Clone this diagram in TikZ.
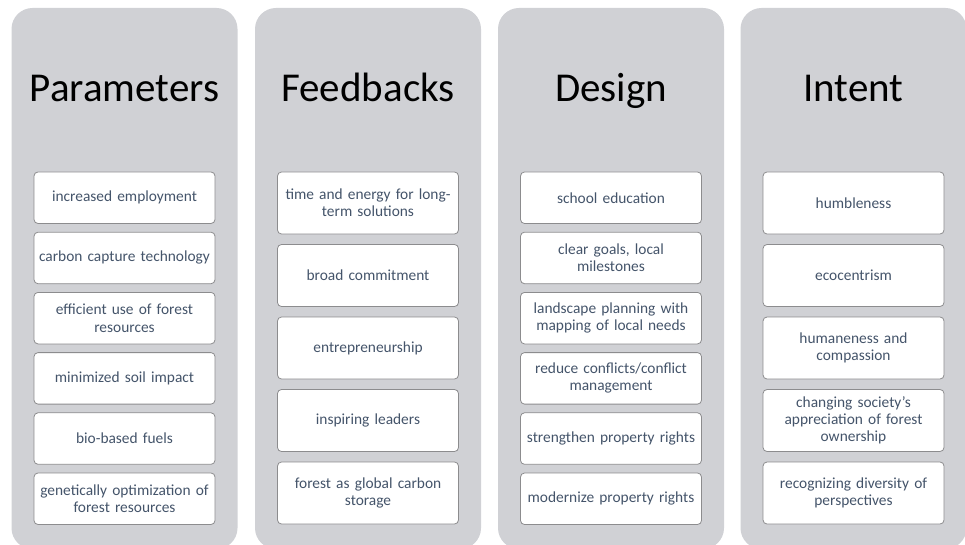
\documentclass[tikz,border=0pt]{standalone}
\usepackage{fontspec}
\setmainfont{Carlito}
\definecolor{colfill}{RGB}{208,209,213}
\definecolor{boxline}{RGB}{140,140,142}
\definecolor{boxtext}{RGB}{68,84,106}
\begin{document}
\begin{tikzpicture}[x=1pt,y=-1pt,
  column/.style={fill=colfill,draw=none,rounded corners=21pt},
  heading/.style={anchor=base,text=black,font=\fontsize{41}{49}\selectfont,inner sep=0pt},
  item/.style={draw=boxline,line width=0.8pt,fill=white,rounded corners=4pt,
    minimum width=181pt,text width=175pt,align=center,inner sep=0pt,
    text=boxtext,font=\fontsize{15.4}{17.2}\selectfont},
  shortitem/.style={item,minimum height=51.5pt},
  tallitem/.style={item,minimum height=62pt}]
\useasboundingbox (0,0) rectangle (965,545);
\begin{scope}
\clip (0,0) rectangle (965,545);
% grey background columns
\foreach \cx in {124.5,368,611,853.5}
  \fill[column] (\cx-113,8) rectangle (\cx+113,549);
\end{scope}

% column headings
\node[heading] (hP) at (124.5,102) {Parameters};
\node[heading] (hF) at (368,102) {Feedbacks};
\node[heading] (hD) at (611,102) {Design};
\node[heading] (hI) at (853.5,102) {Intent};

% Parameters
\node[shortitem] (p1) at (124.5,197.75) {increased employment};
\node[shortitem] (p2) at (124.5,257.95) {carbon capture technology};
\node[shortitem] (p3) at (124.5,318.15) {efficient use of forest\\resources};
\node[shortitem] (p4) at (124.5,378.35) {minimized soil impact};
\node[shortitem] (p5) at (124.5,438.55) {bio-based fuels};
\node[shortitem] (p6) at (124.5,498.75) {genetically optimization of\\forest resources};

% Feedbacks
\node[tallitem] (f1) at (368,203) {time and energy for long-\\term solutions};
\node[tallitem] (f2) at (368,275.5) {broad commitment};
\node[tallitem] (f3) at (368,348) {entrepreneurship};
\node[tallitem] (f4) at (368,420.5) {inspiring leaders};
\node[tallitem] (f5) at (368,493) {forest as global carbon\\storage};

% Design
\node[shortitem] (d1) at (611,197.75) {school education};
\node[shortitem] (d2) at (611,257.95) {clear goals, local\\milestones};
\node[shortitem] (d3) at (611,318.15) {landscape planning with\\mapping of local needs};
\node[shortitem] (d4) at (611,378.35) {reduce conflicts/conflict\\management};
\node[shortitem] (d5) at (611,438.55) {strengthen property rights};
\node[shortitem] (d6) at (611,498.75) {modernize property rights};

% Intent
\node[tallitem] (i1) at (853.5,203) {humbleness};
\node[tallitem] (i2) at (853.5,275.5) {ecocentrism};
\node[tallitem] (i3) at (853.5,348) {humaneness and\\compassion};
\node[tallitem] (i4) at (853.5,420.5) {changing society{\char"0027}s\\appreciation of forest\\ownership};
\node[tallitem] (i5) at (853.5,493) {recognizing diversity of\\perspectives};
\end{tikzpicture}
\end{document}
